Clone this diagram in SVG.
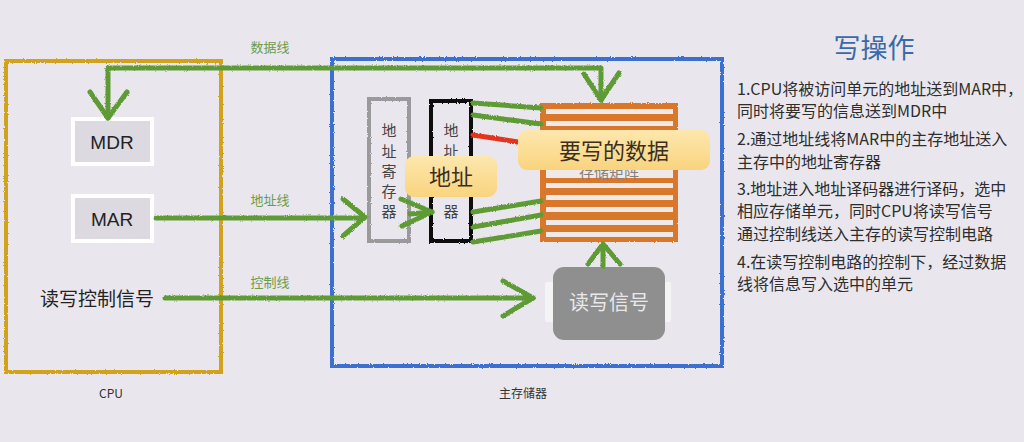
<svg xmlns="http://www.w3.org/2000/svg" width="1024" height="442" viewBox="0 0 1024 442">
<defs>
<filter id="rough" x="-5%" y="-5%" width="110%" height="110%">
<feTurbulence type="fractalNoise" baseFrequency="0.9" numOctaves="2" seed="3" result="n"/>
<feDisplacementMap in="SourceGraphic" in2="n" scale="2.5" xChannelSelector="R" yChannelSelector="G"/>
</filter>
<linearGradient id="yel" x1="0" y1="0" x2="0" y2="1">
<stop offset="0" stop-color="#fde7ae"/>
<stop offset="1" stop-color="#f9d47e"/>
</linearGradient>
<clipPath id="clipTop"><rect x="0" y="0" width="1024" height="156"/></clipPath>
<clipPath id="clipBot"><rect x="0" y="170" width="1024" height="30"/></clipPath>
</defs>
<style>
text{font-family:"Noto Sans CJK SC","Noto Sans",sans-serif}
.g{stroke:#5f9b36;stroke-width:5;fill:none;stroke-linecap:round;stroke-linejoin:round}
.lbl{fill:#6b9c4c;font-size:13px;text-anchor:middle}
.cap{fill:#333;font-size:12px;text-anchor:middle}
.reg{fill:#dcdae0;stroke:#ffffff;stroke-width:4}
.regt{fill:#222;font-size:19px;text-anchor:middle;font-family:"Liberation Sans",sans-serif}
.vt{fill:#444;font-size:15px;text-anchor:middle}
.step{fill:#2e2e2e;font-size:16px}
.tag{fill:url(#yel)}
.tagt{fill:#3a2f20;font-size:22px;text-anchor:middle}
</style>
<rect width="1024" height="442" fill="#e9e7ed"/>

<g id="cpu">
<rect x="6" y="61" width="215" height="311" fill="none" stroke="#d3a21c" stroke-width="4" filter="url(#rough)"/>
<text class="cap" x="111" y="398">CPU</text>
</g>
<g id="mdr">
<rect class="reg" x="73" y="119" width="79" height="45"/>
<text class="regt" x="112" y="149">MDR</text>
</g>
<g id="mar">
<rect class="reg" x="73" y="196" width="79" height="45"/>
<text class="regt" x="112" y="226">MAR</text>
</g>
<g id="rwsig">
<text x="97" y="306" fill="#222" font-size="19" text-anchor="middle">读写控制信号</text>
</g>

<g id="mem">
<rect x="332" y="59" width="390" height="307" fill="none" stroke="#3b6fd0" stroke-width="4" filter="url(#rough)"/>
<text class="cap" x="523" y="398">主存储器</text>
</g>

<g id="matrix">
<rect x="540" y="103" width="138" height="139" fill="#d9772b" filter="url(#rough)"/>
<g fill="#efe9e8">
<rect x="546" y="109" width="127" height="5"/>
<rect x="546" y="121" width="127" height="5"/>
<rect x="546" y="133" width="127" height="5"/>
<rect x="546" y="145" width="127" height="5"/>
<rect x="546" y="157" width="127" height="5"/>
<rect x="546" y="169" width="127" height="9"/>
<rect x="546" y="183" width="127" height="5"/>
<rect x="546" y="195" width="127" height="5"/>
<rect x="546" y="207" width="127" height="5"/>
<rect x="546" y="220" width="127" height="5"/>
<rect x="546" y="232" width="127" height="5"/>
</g>
<text x="609" y="178" fill="#8a7f78" font-size="15" text-anchor="middle" clip-path="url(#clipBot)">存储矩阵</text>
</g>

<g id="areg">
<rect x="369" y="99" width="40" height="142" fill="none" stroke="#9a999c" stroke-width="4" filter="url(#rough)"/>
<text class="vt" x="389" y="136">地</text>
<text class="vt" x="389" y="157">址</text>
<text class="vt" x="389" y="177">寄</text>
<text class="vt" x="389" y="197">存</text>
<text class="vt" x="389" y="217">器</text>
</g>

<g id="decoder">
<rect x="431" y="101" width="40" height="140" fill="none" stroke="#111" stroke-width="4" filter="url(#rough)"/>
<text class="vt" x="451" y="136">地</text>
<text class="vt" x="451" y="157" clip-path="url(#clipTop)">址</text>
<text class="vt" x="451" y="217">器</text>
</g>

<g id="rw">
<rect x="545" y="282" width="12" height="40" rx="2" fill="#f4f4f4"/>
<rect x="661" y="282" width="10" height="40" rx="2" fill="#f4f4f4"/>
<rect x="553" y="267" width="112" height="73" rx="11" fill="#8f8f8f"/>
<text x="609" y="310" fill="#e9e9e9" font-size="20" text-anchor="middle">读写信号</text>
</g>

<g id="connectors">
<g filter="url(#rough)">
<path class="g" d="M108 68 H601 V100"/>
<path class="g" d="M584 74 L601 100 L619 73"/>
<path class="g" d="M108 68 V118"/>
<path class="g" d="M90 92 L108 118 L127 92"/>
<path class="g" d="M156 218 H364"/>
<path class="g" d="M343 199 L365 217 L343 236"/>
<path class="g" d="M410 214 L432 212"/>
<path class="g" d="M401 199 L432 212 L402 226"/>
<path class="g" d="M165 298 H533"/>
<path class="g" d="M503 281 L533 298 L503 316"/>
<path class="g" d="M473 103 L541 108"/>
<path class="g" d="M473 115 L541 124"/>
<path d="M473 135 L518 142" stroke="#e2341c" stroke-width="5" fill="none" stroke-linecap="round"/>
<path class="g" d="M473 212 L541 201"/>
<path class="g" d="M473 227 L541 215"/>
<path class="g" d="M473 242 L541 231"/>
<path class="g" d="M603 266 V245"/>
<path class="g" d="M588 264 L603 244 L620 264"/>
</g>
<text class="lbl" x="270" y="52">数据线</text>
<text class="lbl" x="270" y="205">地址线</text>
<text class="lbl" x="270" y="287">控制线</text>
</g>

<g id="tag-addr">
<rect class="tag" x="405" y="156" width="92" height="41" rx="9"/>
<text class="tagt" x="451" y="185">地址</text>
</g>
<g id="tag-data">
<rect class="tag" x="518" y="130" width="192" height="40" rx="9"/>
<text class="tagt" x="614" y="159">要写的数据</text>
</g>

<g id="notes">
<text x="874" y="58" fill="#3b6aa8" font-size="27" text-anchor="middle">写操作</text>
<text class="step" x="737" y="95">1.CPU将被访问单元的地址送到MAR中，</text>
<text class="step" x="737" y="117">同时将要写的信息送到MDR中</text>
<text class="step" x="737" y="145">2.通过地址线将MAR中的主存地址送入</text>
<text class="step" x="737" y="168">主存中的地址寄存器</text>
<text class="step" x="737" y="195">3.地址进入地址译码器进行译码，选中</text>
<text class="step" x="737" y="217">相应存储单元，同时CPU将读写信号</text>
<text class="step" x="737" y="240">通过控制线送入主存的读写控制电路</text>
<text class="step" x="737" y="268">4.在读写控制电路的控制下，经过数据</text>
<text class="step" x="737" y="290">线将信息写入选中的单元</text>
</g>
</svg>
